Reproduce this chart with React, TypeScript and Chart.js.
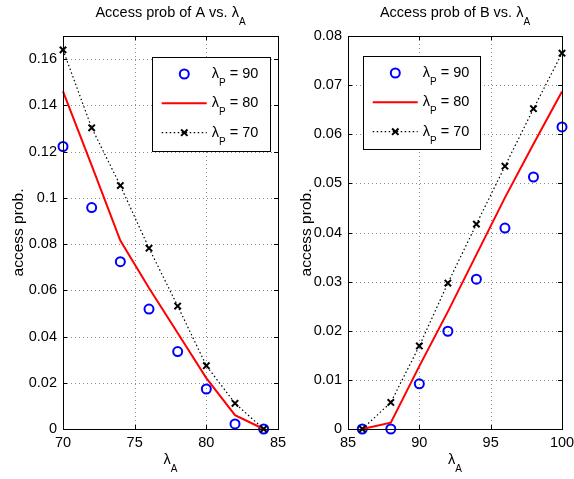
import React, { useEffect, useRef } from "react";
import { Chart, registerables } from "chart.js";
Chart.register(...registerables);

// ---------- data ----------
const xA = [70, 72, 74, 76, 78, 80, 82, 84];
const a90 = [0.1222, 0.0958, 0.0724, 0.0519, 0.0335, 0.0173, 0.0022, 0];
const a80 = [0.146, 0.114, 0.0815, 0.061, 0.0415, 0.022, 0.006, 0];
const a70 = [0.164, 0.1303, 0.1053, 0.0782, 0.0532, 0.0274, 0.0111, 0];

const xB = [86, 88, 90, 92, 94, 96, 98, 100];
const b90 = [0, 0, 0.0092, 0.0199, 0.0305, 0.0409, 0.0513, 0.0615];
const b80 = [0, 0.0013, 0.0128, 0.0239, 0.0355, 0.0471, 0.058, 0.0687];
const b70 = [0, 0.0054, 0.0169, 0.0297, 0.0417, 0.0535, 0.0652, 0.0765];

const xTicksA = [70, 75, 80, 85];
const xTickLabelsA = ["70", "75", "80", "85"];
const yTicksA = [0, 0.02, 0.04, 0.06, 0.08, 0.1, 0.12, 0.14, 0.16];
const yTickLabelsA = ["0", "0.02", "0.04", "0.06", "0.08", "0.1", "0.12", "0.14", "0.16"];
const xTicksB = [85, 90, 95, 100];
const xTickLabelsB = ["85", "90", "95", "100"];
const yTicksB = [0, 0.01, 0.02, 0.03, 0.04, 0.05, 0.06, 0.07, 0.08];
const yTickLabelsB = ["0", "0.01", "0.02", "0.03", "0.04", "0.05", "0.06", "0.07", "0.08"];

const seriesValues = ["90", "80", "70"];
const titleA = "Access prob of A vs. \u03bb";
const titleB = "Access prob of B vs. \u03bb";
const yAxisLabel = "access prob.";

// ---------- styling ----------
const FONT = '"Liberation Sans", Arial, Helvetica, sans-serif';
const f = (s: number) => `${s}px ${FONT}`;
const MAIN = 14.5;
const YLAB = 15.5;
const SUB = 10;
const SUBDY = 8;
const H = 479;
const W = 287;

type Panel = {
  xs: number[];
  s90: number[];
  s80: number[];
  s70: number[];
  xMin: number;
  xMax: number;
  xTicks: number[];
  xLabels: string[];
  yMax: number;
  yTicks: number[];
  yLabels: string[];
  title: string;
  area: { left: number; right: number; top: number; bottom: number };
  legend: { left: number; top: number; width: number; height: number };
  yLabelX: number;
};

function drawSub(ctx: CanvasRenderingContext2D, main: string, sub: string, rest: string, x: number, y: number, align: "left" | "center") {
  ctx.font = f(MAIN);
  const w1 = ctx.measureText(main).width;
  ctx.font = f(SUB);
  const w2 = ctx.measureText(sub).width;
  ctx.font = f(MAIN);
  const w3 = rest ? ctx.measureText(rest).width : 0;
  const x0 = align === "center" ? x - (w1 + w2 + w3) / 2 : x;
  ctx.textAlign = "left";
  ctx.textBaseline = "alphabetic";
  ctx.fillStyle = "#000";
  ctx.font = f(MAIN);
  ctx.fillText(main, x0, y);
  ctx.font = f(SUB);
  ctx.fillText(sub, x0 + w1, y + SUBDY);
  if (rest) {
    ctx.font = f(MAIN);
    ctx.fillText(rest, x0 + w1 + w2, y);
  }
}

function drawCross(ctx: CanvasRenderingContext2D, x: number, y: number, r: number) {
  ctx.beginPath();
  ctx.moveTo(x - r, y - r);
  ctx.lineTo(x + r, y + r);
  ctx.moveTo(x - r, y + r);
  ctx.lineTo(x + r, y - r);
  ctx.stroke();
}

function makePlugin(p: Panel) {
  return {
    id: "matlabDecor",
    beforeDatasetsDraw(chart: any) {
      const ctx: CanvasRenderingContext2D = chart.ctx;
      const { left, right, top, bottom } = chart.chartArea;
      const xs = chart.scales.x;
      const ys = chart.scales.y;
      ctx.save();
      ctx.strokeStyle = "rgba(0,0,0,0.45)";
      ctx.lineWidth = 1;
      ctx.setLineDash([1, 3]);
      ctx.beginPath();
      for (const v of p.xTicks) {
        const px = Math.round(xs.getPixelForValue(v));
        if (px <= left + 1 || px >= right - 1) continue;
        ctx.moveTo(px + 0.5, top);
        ctx.lineTo(px + 0.5, bottom);
      }
      for (const v of p.yTicks) {
        const py = Math.round(ys.getPixelForValue(v));
        if (py <= top + 1 || py >= bottom - 1) continue;
        ctx.moveTo(left, py + 0.5);
        ctx.lineTo(right, py + 0.5);
      }
      ctx.stroke();
      ctx.restore();
    },
    afterDatasetsDraw(chart: any) {
      const ctx: CanvasRenderingContext2D = chart.ctx;
      const { left, right, top, bottom } = chart.chartArea;
      const xs = chart.scales.x;
      const ys = chart.scales.y;
      ctx.save();
      // box
      ctx.strokeStyle = "#000";
      ctx.lineWidth = 1;
      ctx.setLineDash([]);
      ctx.strokeRect(left + 0.5, top + 0.5, right - left, bottom - top);
      // inward ticks
      const TL = 4;
      ctx.beginPath();
      for (const v of p.xTicks) {
        const px = Math.round(xs.getPixelForValue(v)) + 0.5;
        ctx.moveTo(px, bottom);
        ctx.lineTo(px, bottom - TL);
        ctx.moveTo(px, top);
        ctx.lineTo(px, top + TL);
      }
      for (const v of p.yTicks) {
        const py = Math.round(ys.getPixelForValue(v)) + 0.5;
        ctx.moveTo(left, py);
        ctx.lineTo(left + TL, py);
        ctx.moveTo(right, py);
        ctx.lineTo(right - TL, py);
      }
      ctx.stroke();

      // legend
      const L = p.legend;
      ctx.fillStyle = "#fff";
      ctx.fillRect(L.left, L.top, L.width, L.height);
      ctx.strokeStyle = "#000";
      ctx.lineWidth = 1;
      ctx.strokeRect(L.left + 0.5, L.top + 0.5, L.width, L.height);
      const rows = [17, 46.3, 75.7];
      const lx1 = L.left + 9.7;
      const lx2 = L.left + 54.7;
      const mx = L.left + 32.3;
      const tx = L.left + 59.7;
      // row 1: circle
      let ry = L.top + rows[0];
      ctx.strokeStyle = "#0000ff";
      ctx.lineWidth = 2;
      ctx.beginPath();
      ctx.arc(mx, ry, 4.5, 0, Math.PI * 2);
      ctx.stroke();
      drawSub(ctx, "\u03bb", "P", " = " + seriesValues[0], tx, ry + 4, "left");
      // row 2: red line
      ry = L.top + rows[1];
      ctx.strokeStyle = "#ff0000";
      ctx.lineWidth = 2;
      ctx.beginPath();
      ctx.moveTo(lx1, ry);
      ctx.lineTo(lx2, ry);
      ctx.stroke();
      drawSub(ctx, "\u03bb", "P", " = " + seriesValues[1], tx, ry + 4, "left");
      // row 3: dotted + cross
      ry = L.top + rows[2];
      ctx.strokeStyle = "#000";
      ctx.lineWidth = 1.2;
      ctx.setLineDash([1.5, 2.5]);
      ctx.beginPath();
      ctx.moveTo(lx1, ry);
      ctx.lineTo(lx2, ry);
      ctx.stroke();
      ctx.setLineDash([]);
      ctx.lineWidth = 2;
      drawCross(ctx, mx, ry, 3.2);
      drawSub(ctx, "\u03bb", "P", " = " + seriesValues[2], tx, ry + 4, "left");

      // title
      const cx = (left + right) / 2;
      drawSub(ctx, p.title, "A", "", cx, 17, "center");
      // x label
      drawSub(ctx, "\u03bb", "A", "", cx, 464, "center");
      // y label
      ctx.save();
      ctx.translate(p.yLabelX, (top + bottom) / 2);
      ctx.rotate(-Math.PI / 2);
      ctx.font = f(YLAB);
      ctx.fillStyle = "#000";
      ctx.textAlign = "center";
      ctx.textBaseline = "alphabetic";
      ctx.fillText(yAxisLabel, 0, 0);
      ctx.restore();
      ctx.restore();
    },
  };
}

function buildChart(canvas: HTMLCanvasElement, p: Panel) {
  const pts = (ys: number[]) => p.xs.map((x, i) => ({ x, y: ys[i] }));
  return new Chart(canvas, {
    type: "line",
    data: {
      datasets: [
        {
          label: "90",
          data: pts(p.s90),
          showLine: false,
          pointStyle: "circle",
          pointRadius: 4.5,
          pointBorderWidth: 2,
          borderColor: "#0000ff",
          pointBorderColor: "#0000ff",
          backgroundColor: "rgba(0,0,0,0)",
          pointBackgroundColor: "rgba(0,0,0,0)",
          clip: false,
          order: 2,
        } as any,
        {
          label: "80",
          data: pts(p.s80),
          borderColor: "#ff0000",
          borderWidth: 2,
          pointRadius: 0,
          tension: 0,
          fill: false,
          clip: false,
          order: 1,
        } as any,
        {
          label: "70",
          data: pts(p.s70),
          borderColor: "#000",
          borderWidth: 1.2,
          borderDash: [1.5, 2.5],
          pointStyle: "crossRot",
          pointRadius: 4.5,
          pointBorderWidth: 2,
          pointBorderColor: "#000",
          tension: 0,
          fill: false,
          clip: false,
          order: 0,
        } as any,
      ],
    },
    options: {
      responsive: false,
      animation: false,
      devicePixelRatio: 1,
      events: [],
      layout: { padding: { left: 0, top: p.area.top, right: W - p.area.right, bottom: 0 } },
      plugins: { legend: { display: false }, title: { display: false }, tooltip: { enabled: false } },
      scales: {
        x: {
          type: "linear",
          min: p.xMin,
          max: p.xMax,
          grid: { display: false, drawTicks: false },
          border: { display: false },
          ticks: {
            color: "#000",
            font: { family: FONT, size: MAIN },
            padding: 5,
            maxRotation: 0,
            autoSkip: false,
            includeBounds: false,
            callback: (v: any) => {
              const i = p.xTicks.indexOf(Number(v));
              return i >= 0 ? p.xLabels[i] : "";
            },
          },
          afterBuildTicks: (s: any) => {
            s.ticks = p.xTicks.map((v) => ({ value: v }));
          },
          afterFit: (s: any) => {
            s.height = H - p.area.bottom;
            s.paddingLeft = 0;
            s.paddingRight = 0;
          },
        },
        y: {
          type: "linear",
          min: 0,
          max: p.yMax,
          grid: { display: false, drawTicks: false },
          border: { display: false },
          ticks: {
            color: "#000",
            font: { family: FONT, size: MAIN },
            padding: 6,
            autoSkip: false,
            includeBounds: false,
            callback: (v: any) => {
              const i = p.yTicks.findIndex((t) => Math.abs(t - Number(v)) < 1e-9);
              return i >= 0 ? p.yLabels[i] : "";
            },
          },
          afterBuildTicks: (s: any) => {
            s.ticks = p.yTicks.map((v) => ({ value: v }));
          },
          afterFit: (s: any) => {
            s.width = p.area.left;
            s.paddingTop = 0;
            s.paddingBottom = 0;
          },
        },
      },
    } as any,
    plugins: [makePlugin(p)],
  });
}

const panelA: Panel = {
  xs: xA,
  s90: a90,
  s80: a80,
  s70: a70,
  xMin: 70,
  xMax: 85,
  xTicks: xTicksA,
  xLabels: xTickLabelsA,
  yMax: 0.17,
  yTicks: yTicksA,
  yLabels: yTickLabelsA,
  title: titleA,
  area: { left: 63, right: 278, top: 36, bottom: 429 },
  legend: { left: 152, top: 57, width: 118, height: 94 },
  yLabelX: 22.5,
};

const panelB: Panel = {
  xs: xB,
  s90: b90,
  s80: b80,
  s70: b70,
  xMin: 85,
  xMax: 100,
  xTicks: xTicksB,
  xLabels: xTickLabelsB,
  yMax: 0.08,
  yTicks: yTicksB,
  yLabels: yTickLabelsB,
  title: titleB,
  area: { left: 61, right: 275, top: 36, bottom: 429 },
  legend: { left: 76, top: 56, width: 117, height: 93 },
  yLabelX: 23.5,
};

export default function App() {
  const refA = useRef<HTMLCanvasElement>(null);
  const refB = useRef<HTMLCanvasElement>(null);
  useEffect(() => {
    const c1 = buildChart(refA.current!, panelA);
    const c2 = buildChart(refB.current!, panelB);
    return () => {
      c1.destroy();
      c2.destroy();
    };
  }, []);
  return (
    <div style={{ position: "fixed", left: 0, top: 0, width: 574, height: 479, background: "#fff" }}>
      <canvas ref={refA} width={W} height={H} style={{ position: "absolute", left: 0, top: 0, width: W, height: H }} />
      <canvas ref={refB} width={W} height={H} style={{ position: "absolute", left: 287, top: 0, width: W, height: H }} />
    </div>
  );
}
